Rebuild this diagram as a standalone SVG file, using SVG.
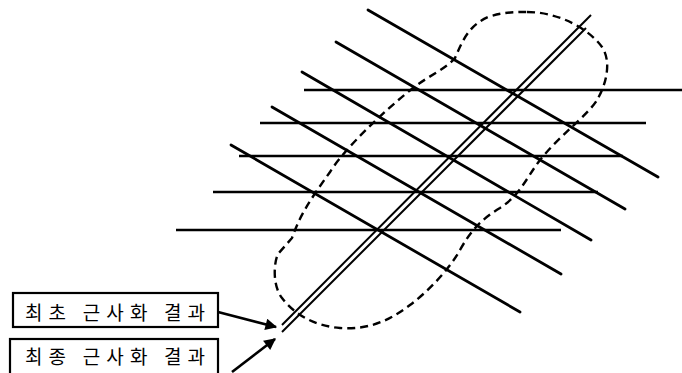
<svg xmlns="http://www.w3.org/2000/svg" width="682" height="373" viewBox="0 0 682 373">
<style>
.h{stroke:#000;stroke-width:2.4;fill:none;stroke-linecap:butt}
.d{stroke:#000;stroke-width:2.8;fill:none;stroke-linecap:round}
.dbl{stroke:#000;stroke-width:2;fill:none}
.blob{stroke:#000;stroke-width:2.4;fill:none;stroke-dasharray:8 5}
.box{fill:#fff;stroke:#000;stroke-width:2.2}
.lbl{font-family:"Noto Sans CJK KR","Noto Sans",sans-serif;font-size:19px;fill:#000}
.arr{stroke:#000;stroke-width:2.6;fill:none}
</style>
<defs>
<marker id="ah" viewBox="0 0 10 10" refX="9" refY="5" markerWidth="6" markerHeight="4.5" orient="auto" markerUnits="strokeWidth">
<path d="M0,0 L10,5 L0,10 Z" fill="#000"/>
</marker>
</defs>
<rect width="682" height="373" fill="#fff"/>
<g id="grid">
<line class="h" x1="304" y1="90" x2="682" y2="90"/>
<line class="h" x1="260" y1="123" x2="646" y2="123"/>
<line class="h" x1="239" y1="156" x2="623" y2="156"/>
<line class="h" x1="213" y1="192" x2="598" y2="192"/>
<line class="h" x1="176" y1="230" x2="561" y2="230"/>
<line class="d" x1="368" y1="10" x2="658" y2="177"/>
<line class="d" x1="336" y1="42" x2="625" y2="209"/>
<line class="d" x1="302" y1="72" x2="591" y2="240"/>
<line class="d" x1="272" y1="107" x2="561" y2="274"/>
<line class="d" x1="231" y1="145" x2="520" y2="312"/>
</g>
<g id="region">
<path class="blob" d="M527,12 C560,12 590,30 602,47 C612,62 606,85 597,100 C588,115 560,135 540,160 C525,180 520,195 500,208 C480,220 470,232 460,250 C450,268 430,290 410,305 C390,320 370,330 340,328 C315,326 295,315 282,298 C272,285 274,262 278,254 L292,238 C300,215 310,200 330,172 C345,148 385,110 413,88 C430,75 447,68 455,58 C462,42 468,26 488,17 C503,12 515,12 527,12 Z"/>
</g>
<g id="result-line">
<line class="dbl" x1="282" y1="325" x2="591" y2="15"/>
<line class="dbl" x1="282" y1="332" x2="586" y2="28"/>
</g>
<g id="label-initial">
<rect class="box" x="13" y="293" width="205" height="34"/>
<text class="lbl" x="25" y="320" textLength="180" lengthAdjust="spacing">최초 근사화 결과</text>
</g>
<g id="label-final">
<rect class="box" x="10" y="339" width="208" height="44"/>
<text class="lbl" x="25" y="364" textLength="180" lengthAdjust="spacing">최종 근사화 결과</text>
</g>
<g id="connectors">
<line class="arr" x1="218" y1="312" x2="276" y2="327" marker-end="url(#ah)"/>
<line class="arr" x1="232" y1="372" x2="275" y2="339" marker-end="url(#ah)"/>
</g>
</svg>
